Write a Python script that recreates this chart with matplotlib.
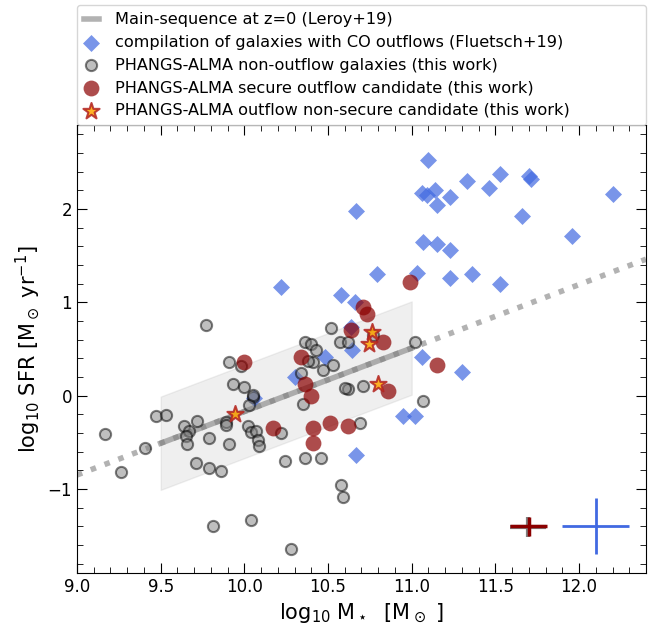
import numpy as np
import matplotlib
matplotlib.use("Agg")
import matplotlib.pyplot as plt

# Fluetsch+19 compilation of galaxies with CO outflows
flu_mass = [10.22, 10.06, 10.30, 10.48, 10.58, 10.66, 10.64, 10.645, 10.67, 10.79,
            11.03, 11.10, 11.06, 11.09, 11.14, 11.15, 11.23, 11.33, 11.46, 11.53,
            11.70, 11.71, 11.66, 12.20, 11.96, 11.07, 11.15, 11.23, 11.23, 11.36,
            11.53, 11.06, 11.30, 10.95, 11.02, 10.67]
flu_sfr = [1.16, -0.03, 0.20, 0.41, 1.08, 1.00, 0.74, 0.49, 1.98, 1.30,
           1.31, 2.52, 2.17, 2.15, 2.20, 2.045, 2.13, 2.30, 2.22, 2.37,
           2.35, 2.32, 1.92, 2.16, 1.71, 1.65, 1.63, 1.56, 1.26, 1.30,
           1.20, 0.41, 0.25, -0.22, -0.22, -0.64]

# PHANGS-ALMA non-outflow galaxies
non_mass = [9.77, 9.91, 9.98, 9.935, 10.00, 10.05, 10.03, 9.47, 9.53, 9.72,
            9.64, 9.67, 9.65, 9.66, 9.79, 9.89, 9.89, 10.02, 10.04, 10.07,
            10.08, 10.09, 9.91, 10.22, 9.405, 9.71, 9.79, 9.86, 10.24, 10.36,
            10.46, 10.36, 10.40, 10.43, 10.41, 10.38, 10.34, 10.35, 9.167, 9.26,
            9.81, 10.52, 10.47, 10.53, 10.57, 10.62, 10.77, 10.62, 10.71, 11.02,
            11.07, 10.69, 10.04, 10.28, 10.58, 10.59, 10.60, 10.05]
non_sfr = [0.76, 0.36, 0.32, 0.12, 0.09, -0.01, -0.10, -0.22, -0.21, -0.27,
           -0.32, -0.38, -0.43, -0.52, -0.45, -0.28, -0.31, -0.33, -0.39, -0.38,
           -0.48, -0.54, -0.52, -0.40, -0.56, -0.72, -0.78, -0.81, -0.70, -0.67,
           -0.67, 0.58, 0.55, 0.49, 0.36, 0.37, 0.24, -0.09, -0.41, -0.82,
           -1.40, 0.72, 0.28, 0.33, 0.58, 0.57, 0.65, 0.07, 0.10, 0.57,
           -0.06, -0.29, -1.33, -1.64, -0.96, -1.09, 0.08, 0.01]

# PHANGS-ALMA secure outflow candidates
sec_mass = [10.00, 10.17, 10.34, 10.36, 10.40, 10.41, 10.41, 10.51, 10.62, 10.64,
            10.71, 10.73, 10.83, 10.86, 10.99, 11.15]
sec_sfr = [0.36, -0.35, 0.41, 0.12, 0.00, -0.35, -0.51, -0.29, -0.33, 0.70,
           0.95, 0.88, 0.58, 0.05, 1.22, 0.33]

# PHANGS-ALMA non-secure outflow candidates
nsec_mass = [9.947, 10.76, 10.745, 10.80]
nsec_sfr = [-0.20, 0.68, 0.55, 0.12]

# main sequence (Leroy+19)
ms_slope = 0.68
ms_norm = -0.17
ms_scatter = 0.5

fig = plt.figure(figsize=(6.62, 6.32), dpi=100)
ax = fig.add_axes([0.1163, 0.0934, 0.8595, 0.7088])

m_all = np.linspace(9.0, 12.4, 50)
m_fit = np.linspace(9.5, 11.0, 50)
ax.plot(m_all, ms_slope * (m_all - 10) + ms_norm, ls=':', color='grey', lw=4, alpha=0.6, zorder=1)
ax.plot(m_fit, ms_slope * (m_fit - 10) + ms_norm, '-', color='grey', lw=4, alpha=0.6, zorder=2,
        label='Main-sequence at z=0 (Leroy+19)')
ax.fill_between(m_fit, ms_slope * (m_fit - 10) + ms_norm - ms_scatter,
                ms_slope * (m_fit - 10) + ms_norm + ms_scatter,
                facecolor='grey', alpha=0.12, edgecolor='grey', zorder=0)

ax.scatter(flu_mass, flu_sfr, marker='D', s=75, color='royalblue', alpha=0.7, lw=0, zorder=3,
           label='compilation of galaxies with CO outflows (Fluetsch+19)')
ax.scatter(non_mass, non_sfr, marker='o', s=65, facecolor='grey', edgecolor='k', lw=1.5,
           alpha=0.5, zorder=4, label='PHANGS-ALMA non-outflow galaxies (this work)')
ax.scatter(sec_mass, sec_sfr, marker='o', s=130, color='darkred', alpha=0.7, lw=0, zorder=5,
           label='PHANGS-ALMA secure outflow candidate (this work)')
ax.scatter(nsec_mass, nsec_sfr, marker='*', s=150, facecolor='orange', edgecolor='firebrick',
           lw=1.5, alpha=0.85, zorder=6, label='PHANGS-ALMA outflow non-secure candidate (this work)')

# typical uncertainties
ax.errorbar(11.695, -1.405, xerr=0.11, yerr=0.11, color='grey', lw=3, zorder=6)
ax.errorbar(11.70, -1.40, xerr=0.11, yerr=0.1, color='darkred', lw=2.5, zorder=7)
ax.errorbar(12.10, -1.40, xerr=0.2, yerr=0.3, color='royalblue', lw=2, zorder=7)

ax.set_xlim(9.0, 12.4)
ax.set_ylim(-1.9, 2.9)
ax.set_xticks([9.0, 9.5, 10.0, 10.5, 11.0, 11.5, 12.0])
ax.set_xticks(np.arange(9.0, 12.41, 0.1), minor=True)
ax.set_yticks([-1, 0, 1, 2])
ax.set_yticks(np.arange(-1.8, 2.81, 0.2), minor=True)
ax.tick_params(which='both', direction='in', top=True, right=True, labelsize=12)
ax.tick_params(which='major', length=7)
ax.tick_params(which='minor', length=4)
ax.set_xlabel(r'log$_{10}$ M$_\star$  [M$_\odot$ ]', fontsize=15)
ax.set_ylabel(r'log$_{10}$ SFR [M$_\odot$ yr$^{-1}$]', fontsize=15)

ax.legend(loc='lower left', bbox_to_anchor=(0, 1.0, 1, 0.2), mode='expand', borderaxespad=0,
          fontsize=11.6, handlelength=0.9, handletextpad=1.0, labelspacing=0.47, borderpad=0.45,
          ncol=1, frameon=True)

fig.savefig('out.png', dpi=100)
